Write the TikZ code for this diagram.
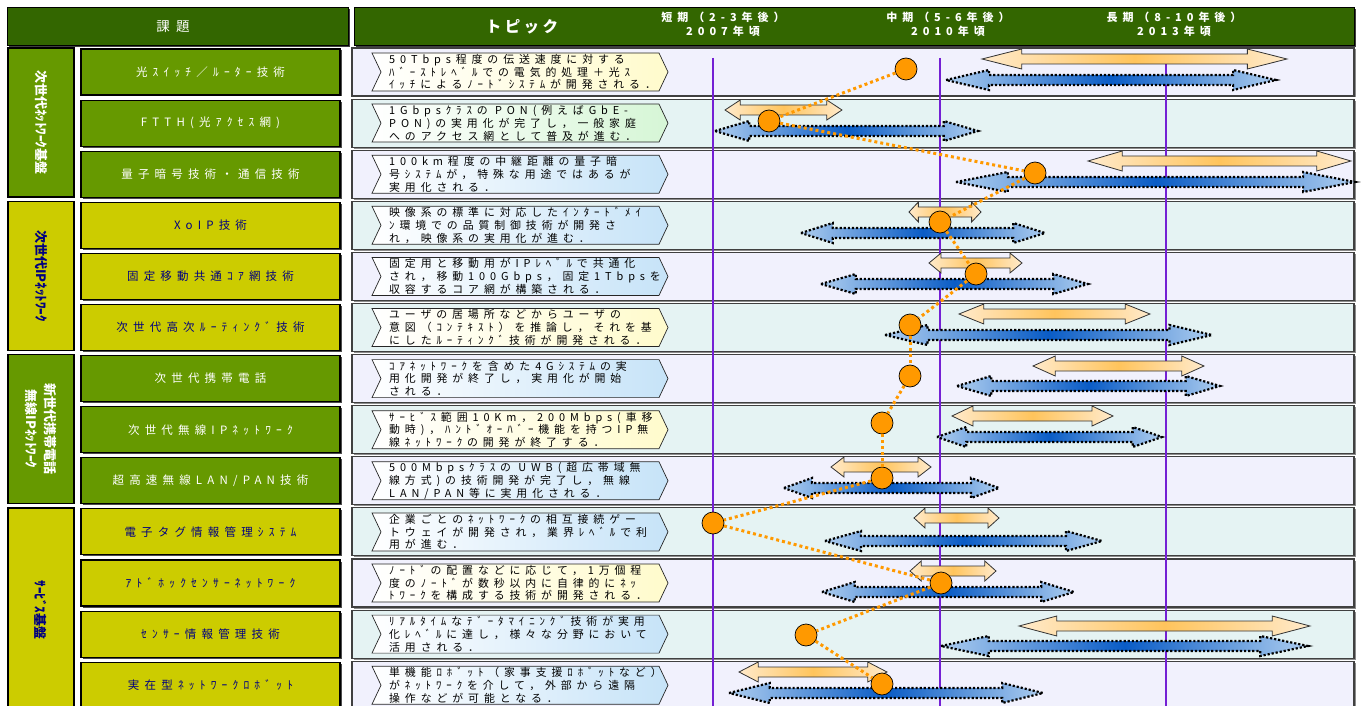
\documentclass[tikz,border=0pt]{standalone}
\usepackage{fontspec}
\setmainfont{Noto Sans CJK JP}
\newfontfamily\jpsp[LetterSpace=45]{Noto Sans CJK JP}
\newfontfamily\jpmid[LetterSpace=22]{Noto Sans CJK JP}
\newfontfamily\jptight{Noto Sans CJK JP}
\usepackage{tikz}
\usetikzlibrary{shadows}
\usepackage{xcolor}

\definecolor{hdrgreen}{HTML}{336600}
\definecolor{boxgreen}{HTML}{669900}
\definecolor{boxyellow}{HTML}{CCCC00}
\definecolor{labnavy}{HTML}{000080}
\definecolor{rowlav}{HTML}{F1F1FD}
\definecolor{rowcyan}{HTML}{E5F3F3}
\definecolor{yearline}{HTML}{7420D4}
\definecolor{dotorange}{HTML}{FF9900}
\definecolor{chevblue}{HTML}{C6E3F8}
\definecolor{chevyellow}{HTML}{FFFBCC}
\definecolor{chevgreen}{HTML}{D6F6D6}
\definecolor{bandpeach}{HTML}{FFEACB}
\definecolor{bandorange}{HTML}{FFC45C}
\definecolor{bandlight}{HTML}{ADCDEF}
\definecolor{banddark}{HTML}{0A5CC6}

% double-headed band: style, left x, right x, mid y
\newcommand\tband[4]{%
  \pgfmathsetmacro\hl{0.13*(#3-#2)}
  \path[#1] (#2,#4) -- (#2+\hl,#4-10) -- (#2+\hl,#4-5) -- (#3-\hl,#4-5)
    -- (#3-\hl,#4-10) -- (#3,#4) -- (#3-\hl,#4+10) -- (#3-\hl,#4+5)
    -- (#2+\hl,#4+5) -- (#2+\hl,#4+10) -- cycle;}
% chevron behind the topic text: top y, colour
\newcommand\topicshape[2]{%
  \path[chevron, right color=#2] (372,#1+5) -- (659,#1+5) -- (668,#1+24)
    -- (659,#1+43) -- (372,#1+43) -- (381,#1+24) -- cycle;}

\begin{document}
\begin{tikzpicture}[
                   x = 1pt,
                   y = -1pt,
     hdrbox/.style = {draw=black, line width=1pt, fill=hdrgreen, inner sep=0pt,
                      drop shadow={shadow xshift=1.5pt, shadow yshift=-1.5pt,
                                   fill=black!75, opacity=1}},
    hdrtext/.style = {text=white, align=center, inner sep=0pt},
     catbox/.style = {draw=black, line width=1.6pt, inner sep=0pt, rotate=-90,
                      align=center, font=\jptight\fontsize{13}{19}\selectfont\bfseries},
    namebox/.style = {draw=black, line width=1.1pt, minimum width=259pt,
                      minimum height=46pt, inner sep=0pt,
                      font=\jpsp\fontsize{11.5}{13}\selectfont,
                      drop shadow={shadow xshift=1.5pt, shadow yshift=-1.5pt,
                                   fill=black!70, opacity=1}},
   greenbox/.style = {namebox, fill=boxgreen, text=white},
  yellowbox/.style = {namebox, fill=boxyellow, text=labnavy},
   rowpanel/.style = {draw=black!75, line width=1.1pt,
                      drop shadow={shadow xshift=1.5pt, shadow yshift=-1.5pt,
                                   fill=black!45, opacity=1}},
    chevron/.style = {draw=black!85, line width=0.7pt, left color=white},
  topictext/.style = {anchor=west, align=left, inner sep=0pt,
                      font=\jpsp\fontsize{10.9}{12.8}\selectfont},
   planband/.style = {draw=black!80, line width=0.8pt, left color=bandpeach,
                      right color=bandpeach, middle color=bandorange},
    devband/.style = {draw=black, line width=2.2pt, dash pattern=on 2.2pt off 1.9pt,
                      left color=bandlight, right color=bandlight, middle color=banddark},
        dot/.style = {circle, draw=black, line width=0.7pt, fill=dotorange,
                      minimum size=22pt, inner sep=0pt},
       link/.style = {dotorange, line width=3pt, dash pattern=on 3pt off 3pt},
                   ]
\clip (0,0) rectangle (1361,706);
\fill[white] (0,0) rectangle (1361,706);

% headers
\node[hdrbox, minimum width=341pt, minimum height=38pt] (kadai) at (177.5,27) {};
\node[hdrtext, font=\jpsp\fontsize{13.5}{15}\selectfont] (kadaitext) at (173,27) {課題};
\node[hdrbox, minimum width=1000pt, minimum height=38pt] (jiki) at (854,27) {};
\node[hdrtext, font=\jpmid\fontsize{15.5}{18}\selectfont\bfseries] (topichdr) at (522,27) {トピック};
\node[hdrtext, font=\jpsp\fontsize{11}{14}\selectfont\bfseries] (short) at (723,24) {短期（2-3年後）\\2007年頃};
\node[hdrtext, font=\jpsp\fontsize{11}{14}\selectfont\bfseries] (mid) at (948,24) {中期（5-6年後）\\2010年頃};
\node[hdrtext, font=\jpsp\fontsize{11}{14}\selectfont\bfseries] (long) at (1174,24) {長期（8-10年後）\\2013年頃};

% row panels
\foreach \r in {0,2,...,12}
  \draw[rowpanel, fill=rowlav] (352,48+51.1*\r) rectangle (1354,96+51.1*\r);
\foreach \r in {1,3,...,11}
  \draw[rowpanel, fill=rowcyan] (352,48+51.1*\r) rectangle (1354,96+51.1*\r);

% categories
\node[catbox, fill=boxgreen, text=white, minimum width=149pt, minimum height=66pt] (cat1) at (41,122.5) {次世代ﾈｯﾄﾜｰｸ基盤};
\node[catbox, fill=boxyellow, text=labnavy, minimum width=149pt, minimum height=66pt] (cat2) at (41,276) {次世代IPﾈｯﾄﾜｰｸ};
\node[catbox, fill=boxgreen, text=white, minimum width=149pt, minimum height=66pt] (cat3) at (41,429) {新世代携帯電話\\無線IPﾈｯﾄﾜｰｸ};
\node[catbox, fill=boxyellow, text=labnavy, minimum width=204pt, minimum height=66pt] (cat4) at (41,610) {ｻｰﾋﾞｽ基盤};

% task names
\node[greenbox]  (n1)  at (210.5,72)    {光ｽｲｯﾁ／ﾙｰﾀｰ技術};
\node[greenbox]  (n2)  at (210.5,123.1) {FTTH(光ｱｸｾｽ網)};
\node[greenbox]  (n3)  at (210.5,174.2) {量子暗号技術・通信技術};
\node[yellowbox] (n4)  at (210.5,225.3) {XoIP技術};
\node[yellowbox] (n5)  at (210.5,276.4) {固定移動共通ｺｱ網技術};
\node[yellowbox] (n6)  at (210.5,327.5) {次世代高次ﾙｰﾃｨﾝｸﾞ技術};
\node[greenbox]  (n7)  at (210.5,378.6) {次世代携帯電話};
\node[greenbox]  (n8)  at (210.5,429.7) {次世代無線IPﾈｯﾄﾜｰｸ};
\node[greenbox]  (n9)  at (210.5,480.8) {超高速無線LAN/PAN技術};
\node[yellowbox] (n10) at (210.5,531.9) {電子タグ情報管理ｼｽﾃﾑ};
\node[yellowbox] (n11) at (210.5,583)   {ｱﾄﾞﾎｯｸｾﾝｻｰﾈｯﾄﾜｰｸ};
\node[yellowbox] (n12) at (210.5,634.1) {ｾﾝｻｰ情報管理技術};
\node[yellowbox] (n13) at (210.5,685.2) {実在型ﾈｯﾄﾜｰｸﾛﾎﾞｯﾄ};

% topics
\topicshape{48}{chevyellow}
\topicshape{99.1}{chevgreen}
\topicshape{150.2}{chevblue}
\topicshape{201.3}{chevblue}
\topicshape{252.4}{chevblue}
\topicshape{303.5}{chevyellow}
\topicshape{354.6}{chevblue}
\topicshape{405.7}{chevyellow}
\topicshape{456.8}{chevblue}
\topicshape{507.9}{chevblue}
\topicshape{559}{chevyellow}
\topicshape{610.1}{chevblue}
\topicshape{661.2}{chevblue}
\node[topictext] (t1)  at (389,72)    {50Tbps程度の伝送速度に対する\\ﾊﾞｰｽﾄﾚﾍﾞﾙでの電気的処理＋光ｽ\\ｲｯﾁによるﾉｰﾄﾞｼｽﾃﾑが開発される．};
\node[topictext] (t2)  at (389,123.1) {1Gbpsｸﾗｽの PON(例えばGbE-\\PON)の実用化が完了し，一般家庭\\へのアクセス網として普及が進む．};
\node[topictext] (t3)  at (389,174.2) {100km程度の中継距離の量子暗\\号ｼｽﾃﾑが，特殊な用途ではあるが\\実用化される．};
\node[topictext] (t4)  at (389,225.3) {映像系の標準に対応したｲﾝﾀｰﾄﾞﾒｲ\\ﾝ環境での品質制御技術が開発さ\\れ，映像系の実用化が進む．};
\node[topictext] (t5)  at (389,276.4) {固定用と移動用がIPﾚﾍﾞﾙで共通化\\され，移動100Gbps，固定1Tbpsを\\収容するコア網が構築される．};
\node[topictext] (t6)  at (389,327.5) {ユーザの居場所などからユーザの\\意図（ｺﾝﾃｷｽﾄ）を推論し，それを基\\にしたﾙｰﾃｨﾝｸﾞ技術が開発される．};
\node[topictext] (t7)  at (389,378.6) {ｺｱﾈｯﾄﾜｰｸを含めた4Gｼｽﾃﾑの実\\用化開発が終了し，実用化が開始\\される．};
\node[topictext] (t8)  at (389,429.7) {ｻｰﾋﾞｽ範囲10Km，200Mbps(車移\\動時)，ﾊﾝﾄﾞｵｰﾊﾞｰ機能を持つIP無\\線ﾈｯﾄﾜｰｸの開発が終了する．};
\node[topictext] (t9)  at (389,480.8) {500Mbpsｸﾗｽの UWB(超広帯域無\\線方式)の技術開発が完了し，無線\\LAN/PAN等に実用化される．};
\node[topictext] (t10) at (389,531.9) {企業ごとのﾈｯﾄﾜｰｸの相互接続ゲー\\トウェイが開発され，業界ﾚﾍﾞﾙで利\\用が進む．};
\node[topictext] (t11) at (389,583)   {ﾉｰﾄﾞの配置などに応じて，1万個程\\度のﾉｰﾄﾞが数秒以内に自律的にﾈｯ\\ﾄﾜｰｸを構成する技術が開発される．};
\node[topictext] (t12) at (389,634.1) {ﾘｱﾙﾀｲﾑなﾃﾞｰﾀﾏｲﾆﾝｸﾞ技術が実用\\化ﾚﾍﾞﾙに達し，様々な分野において\\活用される．};
\node[topictext] (t13) at (389,685.2) {単機能ﾛﾎﾞｯﾄ（家事支援ﾛﾎﾞｯﾄなど）\\がﾈｯﾄﾜｰｸを介して，外部から遠隔\\操作などが可能となる．};

% year lines
\draw[yearline, line width=2.2pt] (713,58) -- (713,706);
\draw[yearline, line width=2.2pt] (940,58) -- (940,706);
\draw[yearline, line width=2.2pt] (1166,58) -- (1166,706);

% planned (orange) and development (blue) periods
\tband{planband}{982}{1287}{59}
\tband{devband}{946}{1276}{80}
\tband{planband}{725}{842}{110}
\tband{devband}{715}{978}{131}
\tband{planband}{1088}{1351}{161}
\tband{devband}{956}{1355}{182}
\tband{planband}{909}{981}{212}
\tband{devband}{801}{1045}{233}
\tband{planband}{929}{1022}{263}
\tband{devband}{821}{1088}{284}
\tband{planband}{959}{1150}{314}
\tband{devband}{885}{1212}{335}
\tband{planband}{1033}{1204}{366}
\tband{devband}{957}{1220}{386}
\tband{planband}{952}{1113}{416}
\tband{devband}{937}{1162}{437}
\tband{planband}{831}{931}{467}
\tband{devband}{784}{999}{488}
\tband{planband}{914}{999}{518}
\tband{devband}{825}{1102}{541}
\tband{planband}{910}{996}{571}
\tband{devband}{822}{1074}{592}
\tband{planband}{1019}{1310}{626}
\tband{devband}{941}{1308}{646}
\tband{planband}{739}{887}{672}
\tband{devband}{729}{1043}{693}

% milestones
\node[dot] (c1)  at (906,69)  {};
\node[dot] (c2)  at (769,121) {};
\node[dot] (c3)  at (1035,173) {};
\node[dot] (c4)  at (940,222) {};
\node[dot] (c5)  at (976,274) {};
\node[dot] (c6)  at (910,325) {};
\node[dot] (c7)  at (910,376) {};
\node[dot] (c8)  at (882,423) {};
\node[dot] (c9)  at (882,478) {};
\node[dot] (c10) at (713,523) {};
\node[dot] (c11) at (941,583) {};
\node[dot] (c12) at (806,635) {};
\node[dot] (c13) at (882,684) {};
\foreach \a/\b in {c1/c2,c2/c3,c3/c4,c4/c5,c5/c6,c6/c7,c7/c8,c8/c9,c9/c10,c10/c11,c11/c12,c12/c13}
  \draw[link] (\a) -- (\b);
\end{tikzpicture}
\end{document}
